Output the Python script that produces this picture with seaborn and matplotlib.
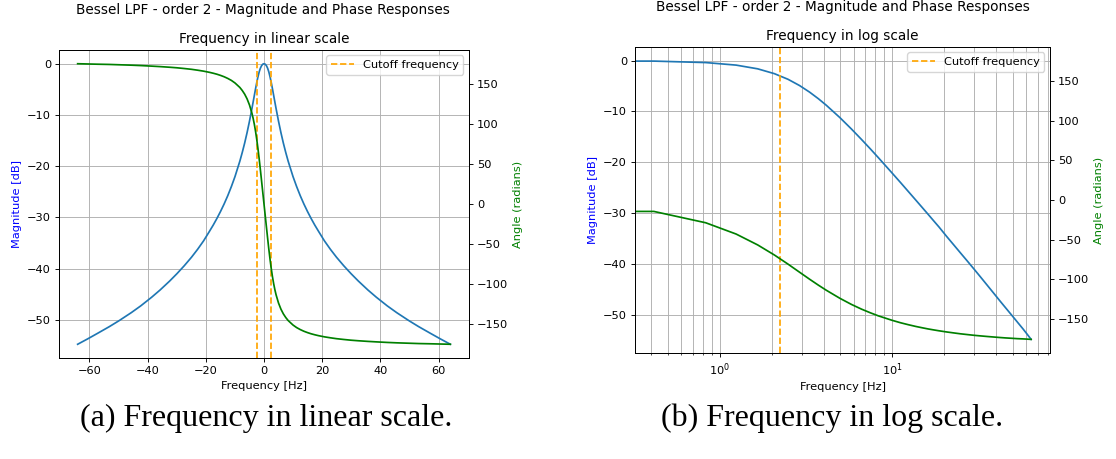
import matplotlib
matplotlib.use("Agg")
import matplotlib.pyplot as plt
import seaborn as sns

# Bessel LPF (order 2) response
freq_hz = [-64.0, -60.6, -57.27, -53.1, -49.8, -45.6, -42.33, -38.6, -35.69, -32.4,
           -29.88, -27.4, -24.9, -22.8, -20.75, -18.7, -17.43, -16.2, -14.94, -13.7,
           -12.45, -11.2, -9.96, -8.3, -7.47, -6.64, -5.81, -4.98, -4.15, -3.735,
           -3.32, -2.905, -2.49, -2.075, -1.66, -1.245, -0.83, -0.415, 0.0,
           0.415, 0.83, 1.245, 1.66, 2.075, 2.49, 2.905, 3.32, 3.735, 4.15,
           4.98, 5.81, 6.64, 7.47, 8.3, 9.96, 11.2, 12.45, 13.7, 14.94,
           16.2, 17.43, 18.7, 20.75, 22.8, 24.9, 27.4, 29.88, 32.4, 35.69,
           38.6, 42.33, 45.6, 49.8, 53.1, 57.27, 60.6, 64.0]

magnitude_db = [-54.8, -53.76, -52.7, -51.35, -50.2, -48.63, -47.3, -45.62, -44.2, -42.45,
                -41.0, -39.47, -37.8, -36.25, -34.6, -32.71, -31.51, -30.25, -28.87, -27.4,
                -25.78, -23.99, -22.04, -19.04, -17.34, -15.49, -13.45, -11.21, -8.77, -7.49,
                -6.19, -4.9, -3.67, -2.56, -1.61, -0.88, -0.38, -0.09, 0.0,
                -0.09, -0.38, -0.88, -1.61, -2.56, -3.67, -4.9, -6.19, -7.49, -8.77,
                -11.21, -13.45, -15.49, -17.34, -19.04, -22.04, -23.99, -25.78, -27.4, -28.87,
                -30.25, -31.51, -32.71, -34.6, -36.25, -37.8, -39.47, -41.0, -42.45, -44.2,
                -45.62, -47.3, -48.63, -50.2, -51.35, -52.7, -53.76, -54.8]

phase_deg = [175.6, 175.3, 175.0, 174.7, 174.3, 173.8, 173.3, 172.6, 172.0, 171.2,
             170.5, 169.6, 168.6, 167.5, 166.3, 164.8, 163.7, 162.5, 161.0, 159.3,
             157.2, 154.7, 151.5, 145.9, 142.1, 137.5, 131.6, 123.9, 113.7, 107.3,
             99.8, 91.0, 80.8, 69.3, 56.6, 42.9, 28.7, 14.4, 0.0,
             -14.4, -28.7, -42.9, -56.6, -69.3, -80.8, -91.0, -99.8, -107.3, -113.7,
             -123.9, -131.6, -137.5, -142.1, -145.9, -151.5, -154.7, -157.2, -159.3, -161.0,
             -162.5, -163.7, -164.8, -166.3, -167.5, -168.6, -169.6, -170.5, -171.2, -172.0,
             -172.6, -173.3, -173.8, -174.3, -174.7, -175.0, -175.3, -175.6]

cutoff_hz = 2.25

suptitle = "Bessel LPF - order 2 - Magnitude and Phase Responses"
panel_titles = ["Frequency in linear scale", "Frequency in log scale"]
captions = ["(a) Frequency in linear scale.", "(b) Frequency in log scale."]

# the original figures were shrunk to ~82% in the document
k = 0.82
plt.rcParams.update({
    "font.size": 10 * k,
    "lines.linewidth": 1.5 * k,
    "axes.linewidth": 0.8 * k,
    "grid.linewidth": 0.8 * k,
    "xtick.major.size": 3.5 * k, "ytick.major.size": 3.5 * k,
    "xtick.major.width": 0.8 * k, "ytick.major.width": 0.8 * k,
    "xtick.minor.size": 2 * k, "ytick.minor.size": 2 * k,
    "xtick.minor.width": 0.6 * k, "ytick.minor.width": 0.6 * k,
    "xtick.major.pad": 3.5 * k, "ytick.major.pad": 3.5 * k,
    "axes.labelpad": 4 * k,
    "axes.titlepad": 6 * k,
    "legend.fontsize": 10 * k,
})

fig = plt.figure(figsize=(11.16, 4.59), dpi=100)
W, H = 1116, 459

# axes boxes in pixels: left, top, right, bottom
boxes = [(59, 49.7, 469, 358.3), (635, 46.7, 1050, 353.3)]
suptitle_pos = [(263, 10), (843, 7)]
caption_pos = [(266, 418), (832, 418)]

for i, (l, t, r, b) in enumerate(boxes):
    ax = fig.add_axes([l / W, 1 - b / H, (r - l) / W, (b - t) / H])
    ax2 = ax.twinx()

    sns.lineplot(x=freq_hz, y=magnitude_db, ax=ax, color="C0", estimator=None)
    sns.lineplot(x=freq_hz, y=phase_deg, ax=ax2, color="green", estimator=None)

    if i == 0:
        ax.axvline(-cutoff_hz, color="orange", linestyle="--", label="Cutoff frequency")
        ax.axvline(cutoff_hz, color="orange", linestyle="--")
        ax.grid(True)
    else:
        ax.axvline(cutoff_hz, color="orange", linestyle="--", label="Cutoff frequency")
        ax.set_xscale("log")
        ax.grid(True, which="both")

    ax.set_title(panel_titles[i], fontsize=12 * k)
    ax.set_xlabel("Frequency [Hz]")
    ax.set_ylabel("Magnitude [dB]", color="blue")
    ax2.set_ylabel("Angle (radians)", color="green")
    ax.legend(loc="upper right")

    fig.text(suptitle_pos[i][0] / W, 1 - suptitle_pos[i][1] / H, suptitle,
             fontsize=12 * k, ha="center", va="center")
    fig.text(caption_pos[i][0] / W, 1 - caption_pos[i][1] / H, captions[i],
             family="Liberation Serif", fontsize=23, ha="center", va="center")

fig.savefig("out.png", dpi=100)
plt.close(fig)
